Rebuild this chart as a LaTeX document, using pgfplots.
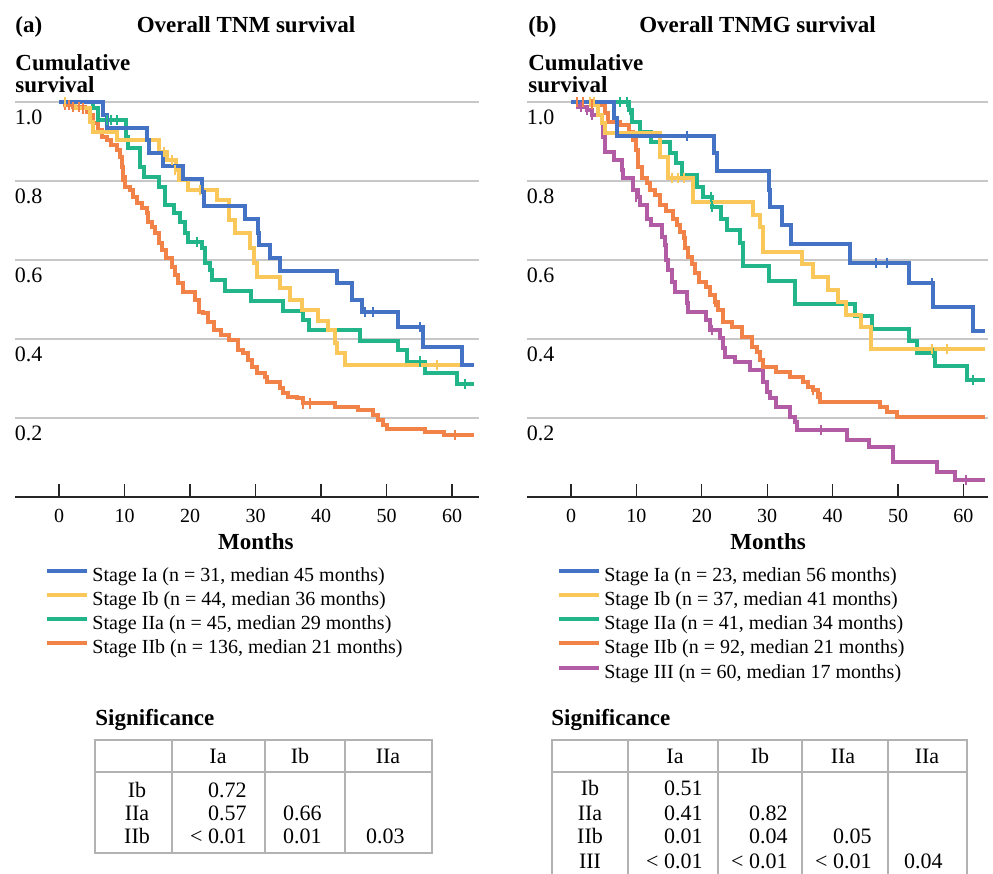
\documentclass[border=0pt]{standalone}
\usepackage{fontspec}
\setmainfont{Liberation Serif}
\usepackage{pgfplots}
\pgfplotsset{compat=1.18}

\definecolor{cIa}{RGB}{68,114,196}
\definecolor{cIb}{RGB}{250,199,90}
\definecolor{cIIa}{RGB}{33,181,137}
\definecolor{cIIb}{RGB}{241,130,72}
\definecolor{cIII}{RGB}{178,92,166}

\newcommand{\ttl}{\fontsize{11.5}{11}\selectfont\bfseries}
\newcommand{\tbl}{\fontsize{11}{13}\selectfont}

\pgfplotsset{
  km axis/.style={
    scale only axis, height=197.5pt,
    ymin=0, ymax=1,
    axis x line=bottom, axis y line=left,
    x axis line style={-, draw=black!85, line width=0.6pt},
    y axis line style={draw=none},
    ytick={0.2,0.4,0.6,0.8,1.0},
    yticklabels={0.2,0.4,0.6,0.8,1.0},
    ytick style={draw=none},
    ymajorgrids,
    grid style={draw=black!22, line width=0.8pt},
    xtick={0,10,20,30,40,50,60},
    xtick align=inside,
    major tick length=6.5pt,
    xtick style={draw=black!85, line width=0.6pt},
    /pgf/number format/assume math mode=true,
    yticklabel style={anchor=north west, inner sep=0pt, xshift=3pt, yshift=-3.5pt, font=\fontsize{11}{13}\selectfont},
    xticklabel style={anchor=north, inner sep=0pt, yshift=-6pt, font=\fontsize{10}{12}\selectfont},
    xlabel={Months},
    xlabel style={anchor=base, inner sep=0pt, font=\ttl},
    ylabel={Cumulative\\survival},
    ylabel style={rotate=-90, anchor=north west, align=left, inner sep=0pt, font=\ttl},
    legend style={draw=none, fill=none, inner sep=0pt, anchor=north west,
      font=\fontsize{10}{12}\selectfont, row sep=0pt,
      nodes={inner xsep=1.5pt, inner ysep=0pt, text height=8pt, text depth=4.1pt}},
    legend cell align=left,
    legend image code/.code={\draw[#1, mark=none, line width=2pt] (0pt,3.3pt) -- (20pt,3.3pt);},
    reverse legend,
    clip=false,
  },
  km/.style={const plot, line width=2pt, mark=none},
  cens/.style={only marks, mark=|, mark size=2.6pt, line width=1pt, forget plot},
}

\begin{document}
\begin{tikzpicture}
\useasboundingbox (0,0) rectangle (496.5pt,-437pt);

% ---------- (a) TNM ----------
\begin{axis}[km axis, at={(7.5pt,-248.5pt)}, anchor=south west,
  width=232pt, xmin=-6.72, xmax=64.12,
  xlabel style={at={(axis description cs:0.519,-0.134)}},
  ylabel style={at={(axis description cs:0,1.122)}},
  legend style={at={(axis description cs:0.0647,-0.172)}}]

\addplot[km, cIIb] coordinates {
(0,1.0)(0.9,0.992)(2.2,0.988)(4.0,0.984)(4.2,0.975)(4.7,0.967)(5.2,0.946)(6.0,0.929)(6.5,0.912)
(7.3,0.904)(8.0,0.891)(8.8,0.879)(9.3,0.862)(9.6,0.836)(9.8,0.811)(10.1,0.786)(10.8,0.777)
(11.3,0.760)(11.9,0.744)(12.6,0.731)(13.4,0.718)(13.6,0.697)(14.2,0.684)(14.7,0.668)(15.2,0.642)
(15.7,0.625)(16.4,0.604)(17.2,0.583)(17.7,0.562)(18.2,0.541)(19.0,0.520)(20.8,0.499)(21.3,0.469)
(22.0,0.465)(22.8,0.444)(23.6,0.423)(24.8,0.410)(25.9,0.397)(27.4,0.372)(28.1,0.364)(28.9,0.347)
(29.4,0.330)(30.2,0.313)(31.5,0.305)(31.7,0.292)(33.7,0.275)(34.2,0.263)(35.0,0.254)(36.3,0.250)
(37.3,0.237)(42.1,0.229)(45.7,0.220)(48.0,0.208)(48.7,0.195)(49.5,0.182)(50.0,0.172)(55.9,0.165)
(58.7,0.157)(63.3,0.157)};
\addlegendentry{Stage IIb (n = 136, median 21 months)}
\addplot[km, cIIa] coordinates {
(0,1.0)(5.2,0.984)(6.0,0.954)(10.2,0.933)(10.3,0.912)(10.6,0.883)(12.4,0.836)(12.9,0.809)
(15.2,0.786)(16.2,0.739)(17.5,0.718)(18.5,0.697)(19.2,0.668)(19.7,0.646)(21.8,0.630)(22.3,0.592)
(23.1,0.575)(23.3,0.549)(25.3,0.522)(29.3,0.497)(34.2,0.472)(37.3,0.448)(38.1,0.423)(46.0,0.396)
(51.8,0.372)(53.1,0.343)(55.9,0.315)(60.7,0.286)(63.3,0.286)};
\addlegendentry{Stage IIa (n = 45, median 29 months)}
\addplot[km, cIb] coordinates {
(0,1.0)(2.5,0.984)(4.7,0.950)(5.2,0.925)(8.9,0.904)(15.3,0.874)(16.5,0.853)(17.8,0.828)
(18.3,0.803)(19.7,0.777)(24.1,0.752)(25.9,0.701)(26.9,0.668)(29.2,0.630)(29.7,0.592)(30.2,0.556)
(33.7,0.528)(35.3,0.499)(37.1,0.473)(39.6,0.446)(41.1,0.423)(42.1,0.389)(42.4,0.364)(43.7,0.334)
(63.3,0.334)};
\addlegendentry{Stage Ib (n = 44, median 36 months)}
\addplot[km, cIa] coordinates {
(0,1.0)(6.7,0.968)(7.3,0.933)(13.5,0.904)(13.7,0.870)(15.9,0.838)(18.9,0.804)(21.8,0.773)
(22.2,0.737)(28.4,0.705)(30.4,0.668)(30.6,0.638)(32.2,0.604)(33.8,0.573)(42.5,0.541)(44.7,0.499)
(46.2,0.469)(51.8,0.430)(55.6,0.381)(61.5,0.334)(63.3,0.334)};
\addlegendentry{Stage Ia (n = 31, median 45 months)}

\addplot[cens, cIIb] coordinates {(0.9,0.992)(1.5,0.992)(2.2,0.988)(3.0,0.988)(3.6,0.984)(9.6,0.811)(37.3,0.237)(38.3,0.237)(60.5,0.157)};
\addplot[cens, cIIa] coordinates {(7.3,0.954)(8.0,0.954)(8.8,0.954)(21.0,0.646)(55.1,0.343)(62.0,0.286)};
\addplot[cens, cIb] coordinates {(0.9,1.0)(16.0,0.874)(17.2,0.853)(17.7,0.828)(21.5,0.777)(57.7,0.334)};
\addplot[cens, cIa] coordinates {(46.7,0.469)(47.9,0.469)(55.1,0.430)};
\end{axis}

% ---------- (b) TNMG ----------
\begin{axis}[km axis, at={(263.5pt,-248.5pt)}, anchor=south west,
  width=230.5pt, xmin=-6.73, xmax=63.76,
  xlabel style={at={(axis description cs:0.523,-0.134)}},
  ylabel style={at={(axis description cs:0.002,1.122)}},
  legend style={at={(axis description cs:0.065,-0.172)}}]

\addplot[km, cIII] coordinates {
(0,1.0)(1.0,0.988)(2.4,0.980)(3.2,0.967)(4.7,0.946)(4.9,0.912)(5.2,0.874)(6.5,0.853)(7.8,0.828)
(8.0,0.807)(9.5,0.777)(10.3,0.760)(10.6,0.739)(11.6,0.705)(12.3,0.689)(13.9,0.659)(14.4,0.638)
(14.6,0.600)(14.9,0.575)(15.4,0.545)(15.9,0.520)(17.7,0.490)(17.9,0.469)(20.7,0.448)(21.3,0.423)
(22.8,0.402)(23.3,0.376)(23.5,0.355)(25.1,0.343)(27.4,0.322)(29.4,0.292)(29.9,0.267)(30.4,0.250)
(31.4,0.229)(33.5,0.203)(34.3,0.191)(34.5,0.170)(42.2,0.144)(45.5,0.127)(49.3,0.089)(55.9,0.064)
(58.7,0.043)(63.3,0.043)};
\addlegendentry{Stage III (n = 60, median 17 months)}
\addplot[km, cIIb] coordinates {
(0,1.0)(4.0,0.992)(5.2,0.971)(5.7,0.950)(7.5,0.942)(8.8,0.925)(9.5,0.904)(9.9,0.879)(10.3,0.836)
(10.8,0.807)(11.6,0.794)(12.1,0.777)(12.8,0.765)(13.6,0.739)(14.6,0.725)(15.6,0.705)(16.2,0.689)
(16.7,0.672)(17.2,0.655)(17.4,0.630)(17.9,0.608)(18.5,0.590)(19.0,0.566)(19.5,0.545)(20.7,0.532)
(21.3,0.511)(22.0,0.494)(22.5,0.473)(23.3,0.444)(24.6,0.431)(26.1,0.406)(27.6,0.381)(28.4,0.368)
(28.9,0.347)(29.4,0.330)(31.4,0.317)(33.5,0.305)(35.5,0.292)(36.3,0.279)(37.0,0.271)(37.8,0.262)
(38.1,0.241)(47.2,0.229)(48.3,0.216)(49.8,0.203)(63.3,0.203)};
\addlegendentry{Stage IIb (n = 92, median 21 months)}
\addplot[km, cIIa] coordinates {
(0,1.0)(8.8,0.980)(9.3,0.950)(10.6,0.925)(12.3,0.900)(15.1,0.870)(16.1,0.845)(16.9,0.815)
(19.2,0.786)(20.2,0.760)(21.5,0.735)(23.0,0.705)(23.8,0.676)(25.8,0.642)(26.3,0.585)(30.2,0.547)
(34.3,0.489)(43.4,0.459)(46.0,0.425)(51.7,0.396)(52.9,0.364)(55.7,0.332)(60.5,0.296)(63.3,0.296)};
\addlegendentry{Stage IIa (n = 41, median 34 months)}
\addplot[km, cIb] coordinates {
(0,1.0)(3.5,0.992)(4.2,0.967)(4.7,0.946)(5.2,0.921)(13.6,0.862)(14.9,0.807)(18.7,0.748)
(27.9,0.714)(28.9,0.684)(29.4,0.621)(35.3,0.590)(37.0,0.558)(39.3,0.524)(40.9,0.494)(42.0,0.461)
(44.4,0.431)(45.8,0.374)(63.3,0.374)};
\addlegendentry{Stage Ib (n = 37, median 41 months)}
\addplot[km, cIa] coordinates {
(0,1.0)(6.5,0.959)(7.0,0.914)(21.8,0.870)(22.3,0.825)(30.2,0.777)(30.4,0.733)(32.2,0.689)
(33.6,0.641)(42.7,0.593)(51.7,0.541)(55.4,0.480)(61.5,0.421)(63.3,0.421)};
\addlegendentry{Stage Ia (n = 23, median 56 months)}

\addplot[cens, cIII] coordinates {(1.6,0.988)(2.4,0.980)(3.2,0.967)(10.0,0.760)(21.5,0.423)(38.3,0.170)(60.4,0.043)};
\addplot[cens, cIIb] coordinates {(0.9,1.0)(1.9,1.0)(3.2,0.995)(22.0,0.494)(37.0,0.271)(37.6,0.262)};
\addplot[cens, cIIa] coordinates {(7.5,1.0)(8.5,1.0)(9.0,0.980)(21.4,0.760)(21.6,0.735)(55.3,0.364)(61.5,0.296)};
\addplot[cens, cIb] coordinates {(2.9,1.0)(3.5,1.0)(15.4,0.807)(16.4,0.807)(17.2,0.807)(55.2,0.374)(57.5,0.374)};
\addplot[cens, cIa] coordinates {(17.8,0.914)(46.7,0.593)(48.3,0.593)(55.2,0.541)};
\end{axis}

% ---------- titles and significance tables (pixel grid) ----------
\begin{scope}[x=0.5pt, y=-0.5pt]
  \node[anchor=base west, inner sep=0pt, font=\ttl] at (15,32) {(a)};
  \node[anchor=base, inner sep=0pt, font=\ttl] at (246,32) {Overall TNM survival};
  \node[anchor=base west, inner sep=0pt, font=\ttl] at (528,32) {(b)};
  \node[anchor=base, inner sep=0pt, font=\ttl] at (757.5,32) {Overall TNMG survival};

  \tikzset{tb/.style={draw=black!30, line width=0.6pt},
           t/.style={inner sep=0pt, font=\tbl, anchor=base},
           r/.style={inner sep=0pt, font=\tbl, anchor=base east}}

  % table (a)
  \node[anchor=base west, inner sep=0pt, font=\ttl] at (95,725) {Significance};
  \draw[tb] (95,740) rectangle (432,853);
  \draw[tb] (95,772) -- (432,772);
  \foreach \x in {172,265,345} \draw[tb] (\x,740) -- (\x,853);
  \node[t] at (218,763) {Ia};
  \node[t] at (300,763) {Ib};
  \node[t] at (388,763) {IIa};
  \node[t] at (137,797) {Ib};
  \node[t] at (137,820) {IIa};
  \node[t] at (137,843) {IIb};
  \node[r] at (247,797) {0.72};
  \node[r] at (247,820) {0.57};
  \node[r] at (247,843) {< 0.01};
  \node[r] at (322,820) {0.66};
  \node[r] at (322,843) {0.01};
  \node[r] at (405,843) {0.03};

  % table (b)
  \node[anchor=base west, inner sep=0pt, font=\ttl] at (551,725) {Significance};
  \draw[tb] (552,874) -- (552,740) -- (967,740) -- (967,874);
  \draw[tb] (552,772) -- (967,772);
  \foreach \x in {628,718,802,888} \draw[tb] (\x,740) -- (\x,874);
  \node[t] at (675,763) {Ia};
  \node[t] at (760,763) {Ib};
  \node[t] at (843,763) {IIa};
  \node[t] at (927,763) {IIa};
  \node[t] at (590,795) {Ib};
  \node[t] at (590,820) {IIa};
  \node[t] at (590,843) {IIb};
  \node[t] at (590,868) {III};
  \node[r] at (703,795) {0.51};
  \node[r] at (703,820) {0.41};
  \node[r] at (703,843) {0.01};
  \node[r] at (703,868) {< 0.01};
  \node[r] at (788,820) {0.82};
  \node[r] at (788,843) {0.04};
  \node[r] at (788,868) {< 0.01};
  \node[r] at (872,843) {0.05};
  \node[r] at (872,868) {< 0.01};
  \node[r] at (943,868) {0.04};
\end{scope}
\end{tikzpicture}
\end{document}
